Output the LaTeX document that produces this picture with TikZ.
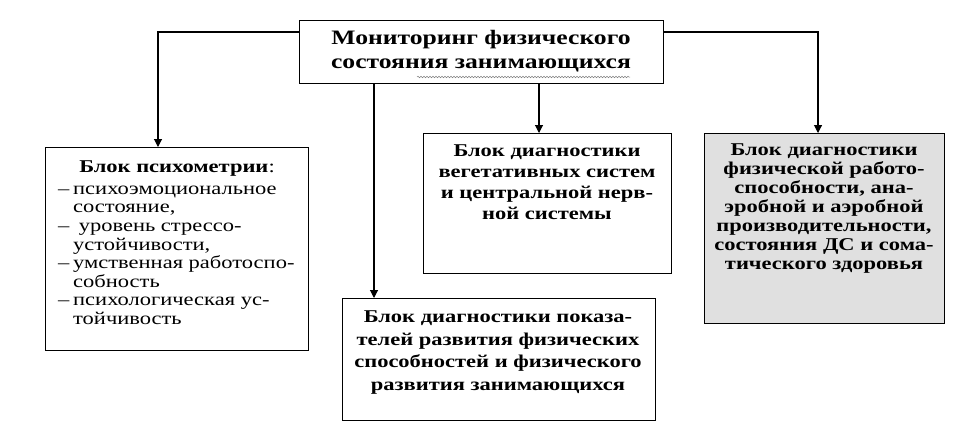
\documentclass[tikz,border=0pt]{standalone}
\usepackage{fontspec}
\setmainfont{Liberation Serif}[FakeStretch=1.25]
\usetikzlibrary{arrows.meta,decorations.pathmorphing}
\begin{document}
\begin{tikzpicture}[x=1pt,y=-1pt,
  box/.style={draw,line width=1.3pt,inner sep=0pt,anchor=north west},
  conn/.style={line width=1.1pt},
  arr/.style={conn,-{Triangle[width=8pt,length=8pt]}},
  txt/.style={align=center,inner sep=0pt,anchor=north},
  ttl/.style={txt,font=\bfseries\fontsize{20.5}{24}\selectfont},
  bx/.style={txt,font=\bfseries\fontsize{18}{22.5}\selectfont}]
\useasboundingbox (0,0) rectangle (963,440);
% boxes
\node[box,minimum width=364pt,minimum height=63pt] (top) at (299,20) {};
\node[box,minimum width=263pt,minimum height=203pt] (psy) at (45,147) {};
\node[box,minimum width=248pt,minimum height=140pt] (veg) at (423,133) {};
\node[box,minimum width=313pt,minimum height=122pt] (dev) at (342,298) {};
\node[box,fill=black!12,minimum width=240pt,minimum height=190pt] (work) at (704,133) {};
% texts
\node[ttl,anchor=center] (toptxt) at (481,51) {Мониторинг физического\\состояния занимающихся};
\draw[gray,line width=0.5pt,decorate,decoration={snake,amplitude=0.8pt,segment length=3pt}] (417,77) -- (630,77);
\node[txt,font=\bfseries\fontsize{18}{20}\selectfont] (psyttl) at (177,161) {Блок психометрии\textmd{:}};
\node[inner sep=0pt,anchor=north west,font=\fontsize{18}{18.6}\selectfont] (psytxt) at (58,181)
 {\renewcommand{\arraystretch}{1}\setlength{\tabcolsep}{0pt}%
 \begin{tabular}{p{15pt}l}
 – & психоэмоциональное\\
   & состояние,\\
 – & \ уровень стрессо-\\
   & устойчивости,\\
 – & умственная работоспо-\\
   & собность\\
 – & психологическая ус-\\
   & тойчивость
 \end{tabular}};
\node[bx,font=\bfseries\fontsize{18}{21}\selectfont] (vegtxt) at (547,145) {Блок диагностики\\вегетативных систем\\и центральной нерв-\\ной системы};
\node[bx] (devtxt) at (498,311) {Блок диагностики показа-\\телей развития физических\\способностей и физического\\развития занимающихся};
\node[bx,font=\bfseries\fontsize{18}{18.9}\selectfont] (worktxt) at (824,144) {Блок диагностики\\физической работо-\\способности, ана-\\эробной и аэробной\\производительности,\\состояния ДС и сома-\\тического здоровья};
% connectors
\coordinate (kl) at (158,32);
\coordinate (kr) at (818,32);
\coordinate (km) at (374,0);
\coordinate (kv) at (539,0);
\draw[arr] (kl -| top.west) -- (kl) -- (kl |- psy.north);
\draw[arr] (kr -| top.east) -- (kr) -- (kr |- work.north);
\draw[arr] (km |- top.south) -- (km |- dev.north);
\draw[arr] (kv |- top.south) -- (kv |- veg.north);
\end{tikzpicture}
\end{document}
